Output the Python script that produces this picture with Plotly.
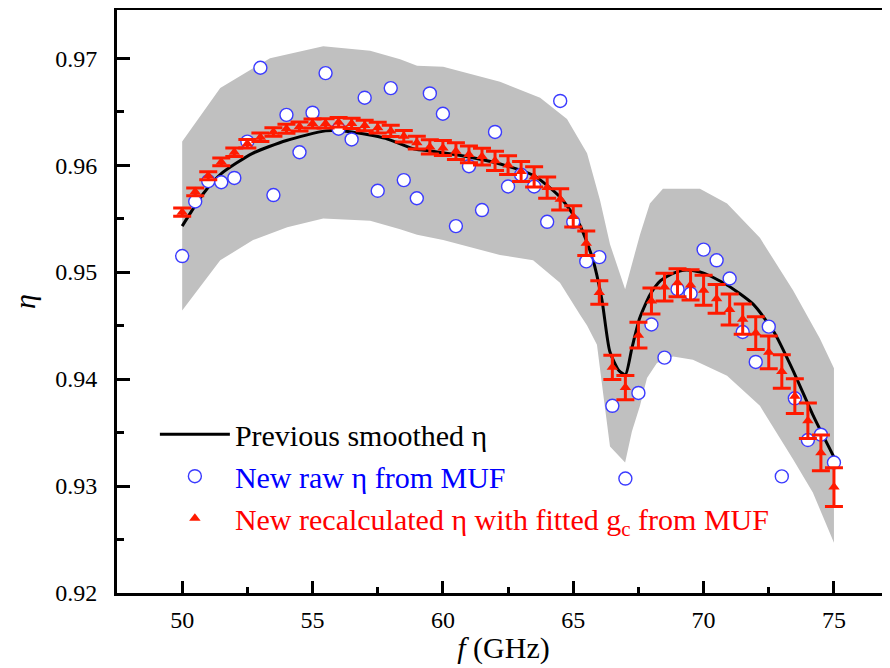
import plotly.graph_objects as go

# Frequencies (GHz) of the MUF measurements
freq = [50.0, 50.5, 51.0, 51.5, 52.0, 52.5, 53.0, 53.5, 54.0, 54.5,
        55.0, 55.5, 56.0, 56.5, 57.0, 57.5, 58.0, 58.5, 59.0, 59.5,
        60.0, 60.5, 61.0, 61.5, 62.0, 62.5, 63.0, 63.5, 64.0, 64.5,
        65.0, 65.5, 66.0, 66.5, 67.0, 67.5, 68.0, 68.5, 69.0, 69.5,
        70.0, 70.5, 71.0, 71.5, 72.0, 72.5, 73.0, 73.5, 74.0, 74.5, 75.0]

# New raw eta from MUF (blue open circles)
eta_raw = [0.9515, 0.9566, 0.9585, 0.9584, 0.9588, 0.9622, 0.9691, 0.9572, 0.9647, 0.9612,
           0.9649, 0.9686, 0.9634, 0.9624, 0.9663, 0.9576, 0.9672, 0.9586, 0.9569, 0.9667,
           0.9648, 0.9543, 0.9599, 0.9558, 0.9631, 0.9580, 0.9591, 0.9580, 0.9547, 0.9660,
           0.9547, 0.9510, 0.9514, 0.9375, 0.9307, 0.9387, 0.9451, 0.9420, 0.9484, 0.9480,
           0.9521, 0.9511, 0.9494, 0.9444, 0.9416, 0.9449, 0.9309, 0.9382, 0.9343, 0.9348, 0.9322]

# New recalculated eta with fitted g_c (red triangles) and its uncertainty
eta_recalc = [0.9556, 0.9575, 0.9590, 0.9603, 0.9612, 0.9620, 0.9626, 0.9631, 0.9634, 0.9636,
              0.9639, 0.9639, 0.9640, 0.9639, 0.9637, 0.9635, 0.9632, 0.9627, 0.9621, 0.9617,
              0.9616, 0.9613, 0.9610, 0.9608, 0.9604, 0.9600, 0.9594, 0.9589, 0.9579, 0.9568,
              0.9552, 0.9527, 0.9481, 0.9411, 0.9392, 0.9441, 0.9473, 0.9486, 0.9490, 0.9488,
              0.9483, 0.9475, 0.9465, 0.9456, 0.9443, 0.9425, 0.9407, 0.9384, 0.9361, 0.9331, 0.9299]
eta_recalc_err = [0.00038, 0.00036, 0.00038, 0.00036, 0.0004, 0.0004, 0.0004, 0.0004, 0.00042, 0.00042,
                  0.00042, 0.00044, 0.00044, 0.00047, 0.00049, 0.0005, 0.00052, 0.00054, 0.0006, 0.00066,
                  0.0007, 0.00078, 0.00078, 0.00078, 0.0009, 0.00088, 0.00094, 0.00094, 0.00099, 0.00099,
                  0.00099, 0.00114, 0.0011, 0.00113, 0.00113, 0.0012, 0.00122, 0.0013, 0.0013, 0.00141,
                  0.00141, 0.00135, 0.00144, 0.00141, 0.00153, 0.00153, 0.00157, 0.00162, 0.00165, 0.00168, 0.00181]

# Previous smoothed eta (black curve)
smooth_f = [50.0, 50.8, 51.5, 52.7, 54.0, 55.5, 56.5, 57.8, 58.9, 59.6, 60.9, 62.2, 63.5, 64.5,
            65.25, 65.75, 66.1, 66.4, 66.75, 67.0, 67.25, 67.55, 67.95, 68.35, 68.85, 69.35,
            70.0, 70.9, 71.9, 72.7, 73.45, 74.2, 75.0]
smooth_eta = [0.9543, 0.9573, 0.9592, 0.9611, 0.9623, 0.9632, 0.9631, 0.9625, 0.9615, 0.9613, 0.9608,
              0.9601, 0.9590, 0.9570, 0.9544, 0.9512, 0.9474, 0.9426, 0.9408, 0.9404, 0.9429,
              0.9457, 0.9479, 0.9492, 0.9499, 0.9502, 0.9499, 0.9488, 0.9470, 0.9444, 0.9407,
              0.9366, 0.9327]

# Grey uncertainty band: upper and lower edges
band_up_f = [50.0, 51.46, 53.37, 55.41, 57.21, 58.36, 59.01, 60.01, 62.19, 63.73, 64.76, 65.53,
             66.03, 66.41, 66.99, 67.56, 67.94, 68.44, 69.86, 70.90, 72.16, 73.43, 74.46, 75.0]
band_up = [0.9622, 0.9672, 0.9700, 0.9711, 0.9707, 0.9699, 0.9693, 0.9692, 0.9678, 0.9663, 0.9643,
           0.9611, 0.9567, 0.9526, 0.9484, 0.9535, 0.9564, 0.9578, 0.9578, 0.9564, 0.9532, 0.9483,
           0.9438, 0.9410]
band_lo_f = [50.0, 51.46, 52.72, 54.03, 55.41, 57.21, 58.36, 59.01, 60.01, 62.19, 63.46, 64.49,
             65.26, 65.53, 65.91, 66.14, 66.41, 66.99, 67.25, 67.56, 67.83, 68.21, 68.83, 69.59,
             70.90, 72.16, 73.43, 74.19, 75.0]
band_lo = [0.9464, 0.9511, 0.9530, 0.9542, 0.9550, 0.9548, 0.9540, 0.9535, 0.9530, 0.9516, 0.9511,
           0.9490, 0.9460, 0.9450, 0.9432, 0.9388, 0.9337, 0.9322, 0.9351, 0.9375, 0.9401, 0.9415,
           0.9421, 0.9418, 0.9403, 0.9375, 0.9325, 0.9294, 0.9247]

# Axis ticks
x_ticks = [50, 55, 60, 65, 70, 75]
y_ticks = [0.92, 0.93, 0.94, 0.95, 0.96, 0.97]

FONT = "Liberation Serif"

fig = go.Figure()

fig.add_trace(go.Scatter(
    x=band_up_f + band_lo_f[::-1], y=band_up + band_lo[::-1],
    fill="toself", fillcolor="#c0c0c0", mode="none",
    line=dict(width=0), showlegend=False, hoverinfo="skip"))

fig.add_trace(go.Scatter(
    x=smooth_f, y=smooth_eta, mode="lines",
    line=dict(color="black", width=3, shape="spline", smoothing=0.6),
    name="Previous smoothed η"))

fig.add_trace(go.Scatter(
    x=freq, y=eta_raw, mode="markers",
    marker=dict(symbol="circle", size=13, color="white",
                line=dict(color="#3b3bff", width=1.4)),
    name="<span style='color:#0000ff'>New raw η from MUF</span>"))

fig.add_trace(go.Scatter(
    x=freq, y=eta_recalc, mode="markers",
    marker=dict(symbol="triangle-up", size=10, color="#ff1a00"),
    error_y=dict(type="data", array=eta_recalc_err, color="#ff1a00",
                 thickness=3, width=9),
    name="<span style='color:#ff0000'>New recalculated η with fitted g<sub>c</sub> from MUF</span>"))

# The page body adds an 8 px offset, so the figure is 8 px smaller on each axis
fig.update_layout(
    width=882, height=660,
    margin=dict(l=109, r=0, t=2, b=75),
    paper_bgcolor="white", plot_bgcolor="white",
    font=dict(family=FONT, color="black"),
    showlegend=True,
    legend=dict(x=0.049, y=0.317, xanchor="left", yanchor="top",
                bgcolor="rgba(0,0,0,0)", font=dict(family=FONT, size=30),
                itemwidth=70, tracegroupgap=0),
)

fig.update_xaxes(
    range=[47.5, 77.15], tickvals=x_ticks, ticktext=[str(v) for v in x_ticks],
    ticks="inside", ticklen=12, tickwidth=2.5, tickcolor="black",
    minor=dict(ticks="inside", ticklen=6, tickwidth=2.5, dtick=2.5, tick0=50, tickcolor="black"),
    showline=True, linewidth=3, linecolor="black", mirror=True,
    showgrid=False, zeroline=False,
    tickfont=dict(family=FONT, size=24), ticklabelstandoff=3,
    title=dict(text="<i>f</i> (GHz)", font=dict(family=FONT, size=30), standoff=6))

fig.update_yaxes(
    range=[0.92, 0.9745], tickvals=y_ticks, ticktext=["%.2f" % v for v in y_ticks],
    ticks="inside", ticklen=13, tickwidth=2.5, tickcolor="black",
    minor=dict(ticks="inside", ticklen=7, tickwidth=2.5, dtick=0.005, tick0=0.92, tickcolor="black"),
    showline=True, linewidth=3, linecolor="black", mirror=False,
    showgrid=False, zeroline=False,
    tickfont=dict(family=FONT, size=24), ticklabelstandoff=12,
    title=dict(text="<i>η</i>", font=dict(family=FONT, size=30), standoff=12))

fig.write_html("out.html")
